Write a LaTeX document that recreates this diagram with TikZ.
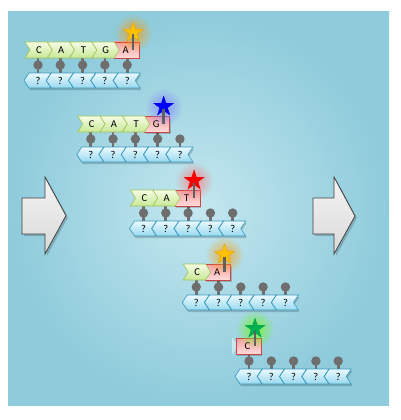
\documentclass[tikz,border=0pt]{standalone}
\usepackage{fontspec}
\setmainfont{Carlito}
\usetikzlibrary{shapes.geometric,fadings}
\definecolor{bgin}{HTML}{C4E7EF}
\definecolor{bgout}{HTML}{8ECBDB}
\definecolor{grtop}{HTML}{F6FCE4}
\definecolor{grbot}{HTML}{C8E896}
\definecolor{grdraw}{HTML}{9EC45C}
\definecolor{rdtop}{HTML}{F3A3A3}
\definecolor{rdbot}{HTML}{FFDADA}
\definecolor{rddraw}{HTML}{CC4444}
\definecolor{bltop}{HTML}{EAFAFF}
\definecolor{blbot}{HTML}{98D8EE}
\definecolor{bldraw}{HTML}{3A98BE}
\definecolor{lolli}{HTML}{6E6E6E}
\definecolor{gold}{HTML}{FFC000}
\definecolor{starblue}{HTML}{0000FF}
\definecolor{starred}{HTML}{FF0000}
\definecolor{stargreen}{HTML}{00B050}
\tikzfading[name=glowfade, inner color=transparent!0, outer color=transparent!100]
\tikzset{
  greenchev/.style={top color=grtop, bottom color=grbot, draw=grdraw, line width=0.6},
  redbox/.style={top color=rdtop, bottom color=rdbot, draw=rddraw, line width=0.6},
  bluechev/.style={top color=bltop, bottom color=blbot, draw=bldraw, line width=0.6},
  shadowfill/.style={fill=black, opacity=0.18},
  lbl/.style={inner sep=0, font=\fontsize{10.5}{11}\selectfont, text=black},
  lollistem/.style={draw=lolli, line width=2.8},
  lollihead/.style={fill=lolli},
  bigarrow/.style={top color=gray!8, bottom color=gray!30, draw=black!75, line width=0.8},
  starnode/.style={star, star points=5, star point ratio=2.6, minimum size=21, inner sep=0},
}
\begin{document}
\begin{tikzpicture}[x=1pt,y=-1pt]
\useasboundingbox (0,0) rectangle (400,420);
\fill[white] (0,0) rectangle (400,420);
\shade[inner color=bgin, outer color=bgout] (8,12) rectangle (389,405);
% big arrows
\fill[shadowfill] (24,200)--(47,200)--(47,179)--(68,217.5)--(47,256)--(47,236)--(24,236)--cycle;
\draw[bigarrow] (22,198)--(45,198)--(45,177)--(66,215.5)--(45,254)--(45,234)--(22,234)--cycle;
\fill[shadowfill] (315,200)--(336,200)--(336,179)--(357,218)--(336,256)--(336,236)--(315,236)--cycle;
\draw[bigarrow] (313,198)--(334,198)--(334,177)--(355,216)--(334,254)--(334,234)--(313,234)--cycle;
\def\letters{{"C","A","T","G","A"}}
\foreach \k/\sc/\gl in {0/gold/orange!80!yellow,1/starblue/blue!50!white,2/starred/red!55!white,3/gold/orange!80!yellow,4/stargreen/green!60!yellow}{
  \pgfmathsetmacro\ox{52.75*\k}
  \pgfmathsetmacro\oy{74*\k}
  \pgfmathtruncatemacro\g{4-\k}
  \begin{scope}[shift={(\ox,\oy)}]
    % bottom strand shadow
    \foreach \i in {0,...,4}{
      \pgfmathsetmacro\cx{38+22.3*\i}
      \fill[shadowfill] (\cx-8,75)--(\cx+14,75)--(\cx+9,82.5)--(\cx+14,90)--(\cx-8,90)--(\cx-13,82.5)--cycle;
    }
    % lollipops
    \foreach \i in {0,...,4}{
      \pgfmathsetmacro\cx{38+22.3*\i}
      \ifnum\i>\g
        \draw[lollistem] (\cx,65)--(\cx,74);
      \else
        \draw[lollistem] (\cx,57)--(\cx,74);
      \fi
      \fill[lollihead] (\cx,65) circle (4.7);
    }
    % bottom strand
    \foreach \i in {4,3,...,0}{
      \pgfmathsetmacro\cx{38+22.3*\i}
      \draw[bluechev] (\cx-9,73)--(\cx+13,73)--(\cx+8,80.5)--(\cx+13,88)--(\cx-9,88)--(\cx-14,80.5)--cycle;
      \node[lbl] (q\k-\i) at (\cx,80.8) {?};
    }
    % red box
    \pgfmathsetmacro\L{25+22.3*\g}
    \pgfmathsetmacro\sx{\L+19}
    \ifnum\k=4
      \fill[white, opacity=0.45] (\L-4,41)--(\L+2,50)--(\L-4,59)--cycle;
    \fi
    \fill[shadowfill] (\L+1,43.5) rectangle (\L+26,59.5);
    \draw[redbox] (\L,42) rectangle (\L+24.8,58);
    \pgfmathsetmacro\rl{\letters[\g]}
    \node[lbl] (r\k) at (\L+11.5,50.3) {\rl};
    % green chevrons
    \ifnum\g>0
      \pgfmathtruncatemacro\gm{\g-1}
      \foreach \i in {0,...,\gm}{
        \pgfmathsetmacro\Lg{25+22.3*\i}
        \draw[greenchev] (\Lg,42)--(\Lg+22.3,42)--(\Lg+27.3,50)--(\Lg+22.3,58)--(\Lg,58)--(\Lg+5,50)--cycle;
        \pgfmathsetmacro\tl{\letters[\i]}
        \node[lbl] (t\k-\i) at (\Lg+13.8,50.3) {\tl};
      }
    \fi
    % star with glow
    \fill[\gl, opacity=0.75, path fading=glowfade] (\sx,33) circle (19);
    \node[starnode, fill=\sc, draw=\sc!85!black, line width=0.3] (s\k) at (\sx,32.5) {};
    \draw[draw=gray!75!black, line width=2.4] (s\k.center)++(0,2) -- (\sx,50);
  \end{scope}
}
\end{tikzpicture}
\end{document}
